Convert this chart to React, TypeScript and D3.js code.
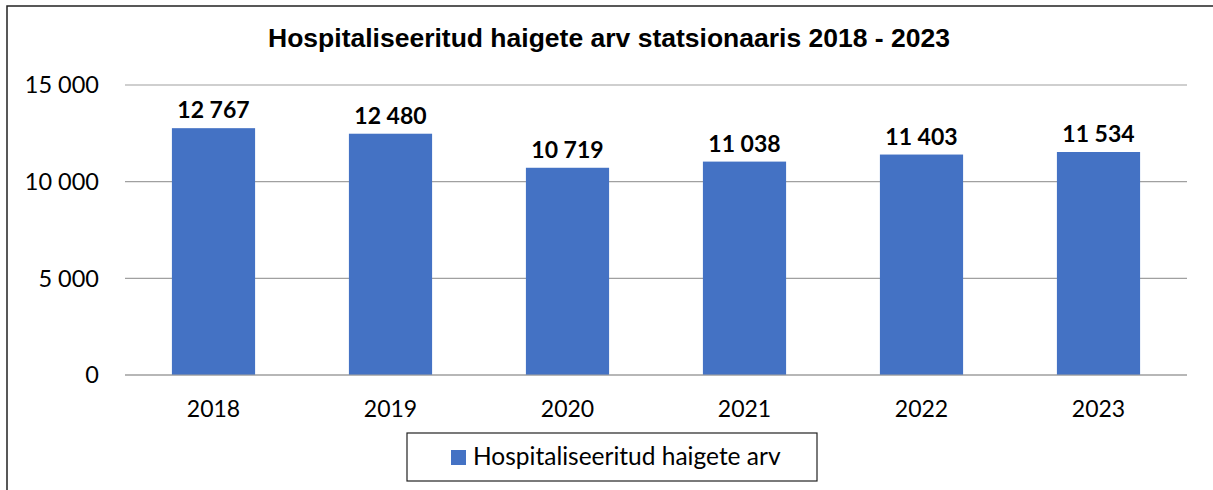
import React from "react"
import * as d3 from "d3"

const years = ["2018", "2019", "2020", "2021", "2022", "2023"]
const patients = [12767, 12480, 10719, 11038, 11403, 11534]
const yTicks = [0, 5000, 10000, 15000]
const title = "Hospitaliseeritud haigete arv statsionaaris 2018 - 2023"
const seriesName = "Hospitaliseeritud haigete arv"

const W = 1213
const H = 490
const margin = { top: 85, right: 26, bottom: 115, left: 125 }
const BAR = "#4472C4"
const labelFont = "Lato, 'Open Sans', sans-serif"

// space grouping like "12 767"
const fmt = (v: number) => d3.format(",")(v).replace(/,/g, " ")

export default function App() {
  const x = d3
    .scaleBand()
    .domain(years)
    .range([margin.left, W - margin.right])
    .paddingInner(0.53)
    .paddingOuter(0.265)

  const y = d3
    .scaleLinear()
    .domain([0, 15000])
    .range([H - margin.bottom, margin.top])

  return (
    <svg
      width={W}
      height={H}
      style={{ position: "absolute", left: 0, top: 0, background: "#fff" }}
    >
      {/* chart area frame, runs off the right and bottom edge */}
      <rect x={7} y={6} width={W + 20} height={H + 20} fill="#fff" stroke="#222" strokeWidth={1.5} />

      <text
        x={609}
        y={47}
        textAnchor="middle"
        fontFamily="'Liberation Sans', Arial, sans-serif"
        fontWeight="bold"
        fontSize={26.5}
        fill="#000"
      >
        {title}
      </text>

      {yTicks.map((t) => (
        <g key={t}>
          <line
            x1={margin.left}
            x2={W - margin.right}
            y1={y(t)}
            y2={y(t)}
            stroke="#a0a0a0"
            strokeWidth={1.2}
          />
          <text
            x={99}
            y={y(t)}
            dy="0.36em"
            textAnchor="end"
            fontFamily={labelFont}
            fontSize={23.5}
            fill="#000"
          >
            {fmt(t)}
          </text>
        </g>
      ))}

      {years.map((yr, i) => (
        <g key={yr}>
          <rect
            x={x(yr)!}
            y={y(patients[i])}
            width={x.bandwidth()}
            height={y(0) - y(patients[i])}
            fill={BAR}
          />
          <text
            x={x(yr)! + x.bandwidth() / 2}
            y={y(patients[i]) - 10}
            textAnchor="middle"
            fontFamily={labelFont}
            fontWeight="bold"
            fontSize={23}
            fill="#000"
          >
            {fmt(patients[i])}
          </text>
          <text
            x={x(yr)! + x.bandwidth() / 2}
            y={417}
            textAnchor="middle"
            fontFamily={labelFont}
            fontSize={23}
            fill="#000"
          >
            {yr}
          </text>
        </g>
      ))}

      <line x1={margin.left} x2={W - margin.right} y1={y(0)} y2={y(0)} stroke="#a0a0a0" strokeWidth={1.2} />

      {/* legend */}
      <rect x={407} y={433} width={410} height={48} fill="#fff" stroke="#222" strokeWidth={1.2} />
      <rect x={451} y={450} width={15} height={15} fill={BAR} />
      <text x={473} y={465} fontFamily={labelFont} fontSize={24.5} fill="#000">
        {seriesName}
      </text>
    </svg>
  )
}
